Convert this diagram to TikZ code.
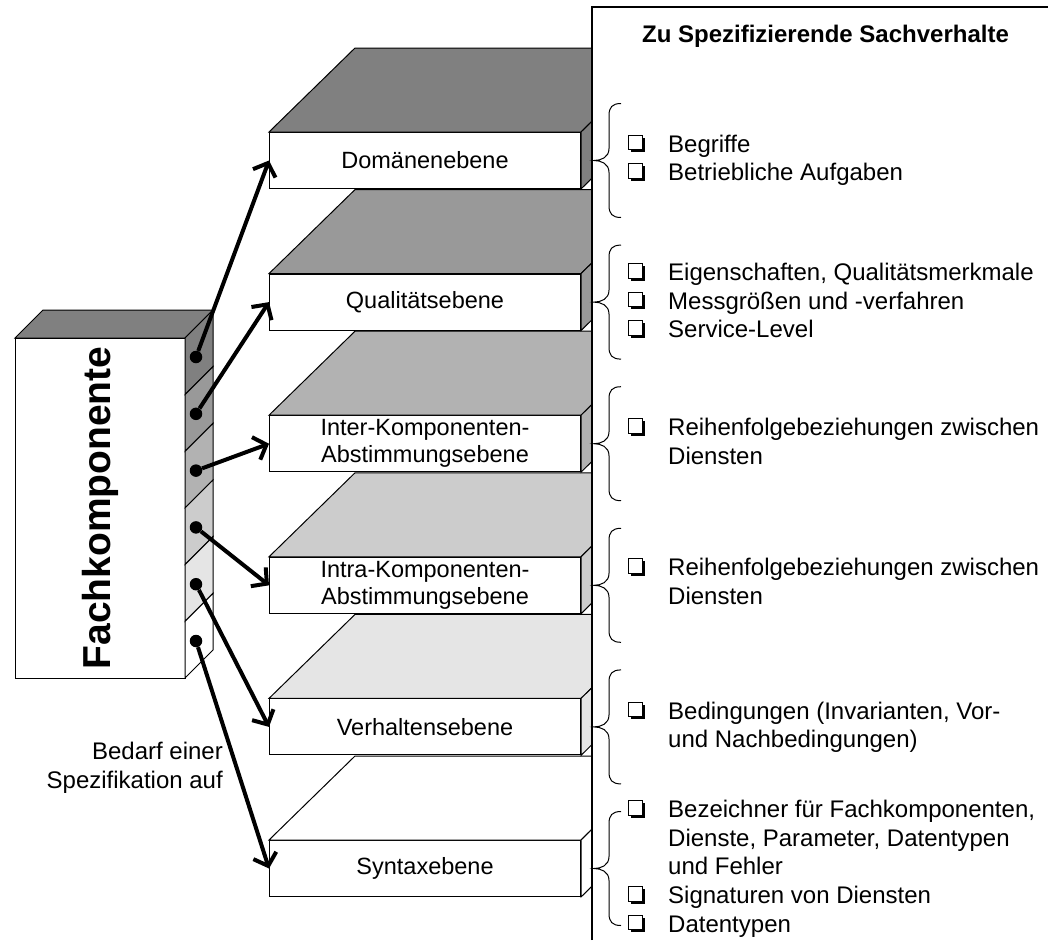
\documentclass[tikz,border=0pt]{standalone}
\usepackage{fontspec}
\setmainfont{Liberation Sans}
\usetikzlibrary{arrows.meta}
\def\Layer at (#1) shade (#2) name (#3) #4;{
    \node[layer, anchor=north west] (#3) at (#1) {#4};
    \begin{scope}
        \clip (0, 0) rectangle (592, 940);
        \draw[face, fill=#2] (#3.north west) -- ++(86, -84) -- ++(311, 0) -- (#3.north east) -- cycle;
        \draw[face, fill=#2] (#3.north east) -- ++(86, -84) -- ++(0, 56) -- (#3.south east) -- cycle;
    \end{scope}
}
\def\Brace at (#1);{
    \begin{scope}[shift={(#1.east)}]
        \draw[brace] (40, -57) .. controls (31, -57) and (28, -53) .. (28, -45) -- (28, -12)
            .. controls (28, -3) and (20, 0) .. (13, 0) .. controls (20, 0) and (28, 3) .. (28, 12)
            -- (28, 45) .. controls (28, 53) and (31, 57) .. (40, 57);
    \end{scope}
}
\def\ChkBox at (#1, #2);{
    \fill (#1 + 2.5, #2 - 14.5) rectangle (#1 + 17, #2);
    \draw[fill=white, line width=1pt] (#1, #2 - 17) rectangle (#1 + 14.5, #2 - 2.5);
}
\def\Item (#1) at (#2) #3;{
    \ChkBox at (628, #2);
    \node[item, anchor=base west] (#1) at (668, #2) {\begin{tabular}[t]{@{}l@{}}#3\end{tabular}};
}
\begin{document}
\begin{tikzpicture}[x=1pt, y=-1pt,
        face/.style={draw, line width=1pt},
        layer/.style={draw, line width=1pt, fill=white, minimum width=311pt, minimum height=56pt,
            inner sep=2pt, align=center, font=\fontsize{23.5}{27}\selectfont},
        item/.style={inner sep=0pt, font=\fontsize{24}{28.5}\selectfont},
        dot/.style={circle, fill, inner sep=0pt, minimum size=12.5pt},
        link/.style={line width=4pt, -{Straight Barb[length=11pt, width=24pt]}},
        brace/.style={line width=1pt}]
    \useasboundingbox (0, 0) rectangle (1048, 940);
    % layers, lowest first
    \Layer at (269, 840) shade (white) name (syn) {Syntaxebene};
    \Layer at (269, 698.4) shade (black!10) name (verh) {Verhaltensebene};
    \Layer at (269, 556.8) shade (black!20) name (intra) {Intra-Komponenten-\\Abstimmungsebene};
    \Layer at (269, 415.2) shade (black!30) name (inter) {Inter-Komponenten-\\Abstimmungsebene};
    \Layer at (269, 273.6) shade (black!40) name (qual) {Qualitätsebene};
    \Layer at (269, 132) shade (black!50) name (dom) {Domänenebene};
    % the component block
    \draw[face, fill=black!50] (15, 338) -- (43, 310) -- (213, 310) -- (185, 338) -- cycle;
    \node[face, fill=white, minimum width=170pt, minimum height=340pt, inner sep=0pt] (fach) at (100, 508) {};
    \foreach \s [count=\k from 0] in {50, 40, 30, 20, 10, 0} {
        \draw[face, fill=black!\s] (185, 338 + 56.667*\k) -- ++(28, -28) -- ++(0, 56.667) -- ++(-28, 28) -- cycle;
        \node[dot] (p\k) at (196, 357 + 56.8*\k) {};
    }
    \node[rotate=90, anchor=base, inner sep=0pt, font=\bfseries\fontsize{39}{39}\selectfont] (fachlabel) at (110, 508) {Fachkomponente};
    \foreach \l [count=\k from 0] in {dom, qual, inter, intra, verh, syn}
        \draw[link] (p\k) -- (\l.west);
    \node[inner sep=0pt, align=right, anchor=east, font=\fontsize{24}{29}\selectfont] (bedarf) at (223, 768) {Bedarf einer\\Spezifikation auf};
    % right panel
    \draw[line width=1.3pt] (592, 940) -- (592, 7) -- (1048, 7);
    \node[anchor=base, inner sep=0pt, font=\bfseries\fontsize{24}{28}\selectfont] (title) at (825.5, 42) {Zu Spezifizierende Sachverhalte};
    \foreach \l in {dom, qual, inter, intra, verh, syn}
        \Brace at (\l);
    \Item (begr) at (152) {Begriffe};
    \Item (aufg) at (180.5) {Betriebliche Aufgaben};
    \Item (eig) at (280.5) {Eigenschaften, Qualitätsmerkmale};
    \Item (mess) at (309) {Messgrößen und -verfahren};
    \Item (slv) at (337.5) {Service-Level};
    \Item (reihe1) at (435.5) {Reihenfolgebeziehungen zwischen\\Diensten};
    \Item (reihe2) at (575.5) {Reihenfolgebeziehungen zwischen\\Diensten};
    \Item (bed) at (719) {Bedingungen (Invarianten, Vor-\\und Nachbedingungen)};
    \Item (bez) at (817.5) {Bezeichner für Fachkomponenten,\\Dienste, Parameter, Datentypen\\und Fehler};
    \Item (sig) at (903.5) {Signaturen von Diensten};
    \Item (dat) at (932) {Datentypen};
\end{tikzpicture}
\end{document}
